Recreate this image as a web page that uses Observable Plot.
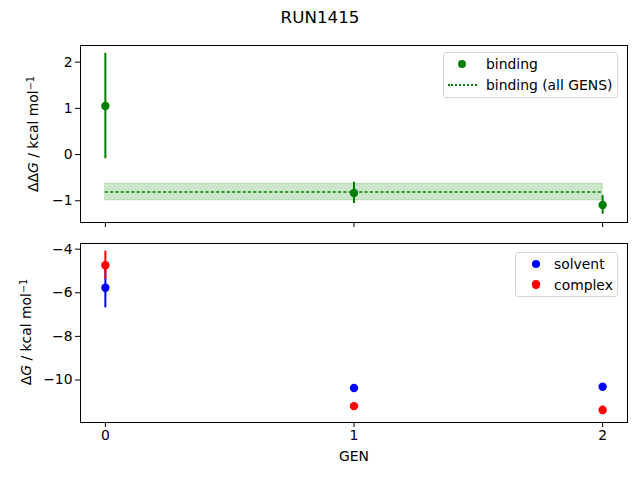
<!DOCTYPE html>
<html>
<head>
<meta charset="utf-8">
<script src="https://cdn.jsdelivr.net/npm/d3@7"></script>
<script src="https://cdn.jsdelivr.net/npm/@observablehq/plot@0.6"></script>
<style>
  html, body { margin: 0; padding: 0; background: #fff; }
  #root { position: relative; width: 640px; height: 480px; overflow: hidden; font-family: "DejaVu Sans", sans-serif; color: #000; }
  #root svg { position: absolute; left: 0; }
  .title { position: absolute; left: 0; width: 640px; top: 7px; text-align: center; font-size: 16.7px; }
  .ylab { position: absolute; font-size: 13.9px; white-space: nowrap; transform: translate(-50%, -50%) rotate(-90deg); }
  .ylab sup { font-size: 9.7px; vertical-align: 0.45em; line-height: 0; }
  .legend { position: absolute; background: rgba(255,255,255,0.8); border: 1px solid #d6d6d6; border-radius: 3px; font-size: 13.9px; box-sizing: border-box; }
  .legend .row { position: absolute; left: 0; height: 20px; line-height: 20px; white-space: nowrap; }
  .legend .dot { position: absolute; width: 8.4px; height: 8.4px; border-radius: 50%; top: 5.8px; }
  .legend .dline { position: absolute; top: 9px; width: 29px; border-top: 2px dotted green; }
  .legend .lbl { position: absolute; top: 0; }
</style>
</head>
<body>
<div id="root"></div>
<script>
// ---- data ----
const gens = [0, 1, 2];
const bindingMean = [1.05, -0.83, -1.09];
const bindingErr = [1.14, 0.23, 0.20];
const allGensMean = -0.81;
const allGensErr = 0.18;
const solventMean = [-5.77, -10.37, -10.31];
const solventErr = [0.92, 0.05, 0.05];
const complexMean = [-4.74, -11.20, -11.38];
const complexErr = [0.65, 0.12, 0.19];
const xTicks = [0, 1, 2];
const topYTicks = [-1, 0, 1, 2];
const bottomYTicks = [-10, -8, -6, -4];
const titleText = "RUN1415";
const xLabel = "GEN";

const binding = gens.map((g, i) => ({gen: g, v: bindingMean[i], e: bindingErr[i]}));
const solvent = gens.map((g, i) => ({gen: g, v: solventMean[i], e: solventErr[i]}));
const complex = gens.map((g, i) => ({gen: g, v: complexMean[i], e: complexErr[i]}));

const fmt = d => d < 0 ? "\u2212" + Math.abs(d) : String(d);
const xDomain = [-0.1, 2.1];
const plotStyle = {fontFamily: "DejaVu Sans, sans-serif", fontSize: "13.9px", background: "transparent", color: "black"};

const root = document.getElementById("root");

// ---- top panel ----
const topPlot = Plot.plot({
  width: 640, height: 235,
  marginLeft: 80, marginRight: 13, marginTop: 45, marginBottom: 13,
  style: plotStyle,
  x: {domain: xDomain},
  y: {domain: [-1.47, 2.36]},
  marks: [
    Plot.areaY(gens, {x: d => d, y1: () => allGensMean - allGensErr, y2: () => allGensMean + allGensErr, fill: "green", fillOpacity: 0.2, stroke: "green", strokeOpacity: 0.2, strokeWidth: 1}),
    Plot.lineY(gens, {x: d => d, y: () => allGensMean, stroke: "green", strokeWidth: 1.5, strokeDasharray: "2,3.3"}),
    Plot.ruleX(binding, {x: "gen", y1: d => d.v - d.e, y2: d => d.v + d.e, stroke: "green", strokeWidth: 2}),
    Plot.dot(binding, {x: "gen", y: "v", r: 4.2, fill: "green", stroke: null}),
    Plot.frame({stroke: "black", strokeWidth: 1}),
    Plot.axisY({ticks: topYTicks, tickFormat: fmt, tickSize: 5, tickPadding: 3, label: null}),
    Plot.axisX({ticks: xTicks, tickFormat: () => "", tickSize: 5, label: null})
  ]
});
topPlot.style.top = "0px";
root.appendChild(topPlot);

// ---- bottom panel ----
const bottomPlot = Plot.plot({
  width: 640, height: 245,
  marginLeft: 80, marginRight: 13, marginTop: 8, marginBottom: 58,
  style: plotStyle,
  x: {domain: xDomain},
  y: {domain: [-11.95, -3.74]},
  marks: [
    Plot.ruleX(solvent, {x: "gen", y1: d => d.v - d.e, y2: d => d.v + d.e, stroke: "blue", strokeWidth: 2}),
    Plot.dot(solvent, {x: "gen", y: "v", r: 4.2, fill: "blue", stroke: null}),
    Plot.ruleX(complex, {x: "gen", y1: d => d.v - d.e, y2: d => d.v + d.e, stroke: "red", strokeWidth: 2}),
    Plot.dot(complex, {x: "gen", y: "v", r: 4.2, fill: "red", stroke: null}),
    Plot.frame({stroke: "black", strokeWidth: 1}),
    Plot.axisY({ticks: bottomYTicks, tickFormat: fmt, tickSize: 5, tickPadding: 3, label: null}),
    Plot.axisX({ticks: xTicks, tickFormat: fmt, tickSize: 5, tickPadding: 3, label: null}),
    Plot.axisX({ticks: [], label: xLabel, labelAnchor: "center", labelOffset: 38, labelArrow: "none"})
  ]
});
bottomPlot.style.top = "235px";
root.appendChild(bottomPlot);

// ---- title & y labels ----
const t = document.createElement("div");
t.className = "title"; t.textContent = titleText;
root.appendChild(t);

function ylab(x, y, html) {
  const d = document.createElement("div");
  d.className = "ylab";
  d.style.left = x + "px"; d.style.top = y + "px";
  d.innerHTML = html;
  root.appendChild(d);
}
ylab(33, 134, "\u0394\u0394<i>G</i> / kcal mol<sup>\u22121</sup>");
ylab(26, 332, "\u0394<i>G</i> / kcal mol<sup>\u22121</sup>");

// ---- legends ----
function legend(x, y, w, h, items) {
  const L = document.createElement("div");
  L.className = "legend";
  Object.assign(L.style, {left: x + "px", top: y + "px", width: w + "px", height: h + "px"});
  items.forEach((it, i) => {
    const row = document.createElement("div");
    row.className = "row";
    row.style.top = (1 + i * 20.5) + "px";
    row.style.width = w + "px";
    if (it.type === "dot") {
      const s = document.createElement("div");
      s.className = "dot";
      s.style.background = it.color;
      s.style.left = (it.sx - 4.2) + "px";
      row.appendChild(s);
    } else {
      const s = document.createElement("div");
      s.className = "dline";
      s.style.left = (it.sx - 14.5) + "px";
      s.style.borderTopColor = it.color;
      row.appendChild(s);
    }
    const lb = document.createElement("span");
    lb.className = "lbl";
    lb.style.left = it.lx + "px";
    lb.textContent = it.label;
    row.appendChild(lb);
    L.appendChild(row);
  });
  root.appendChild(L);
}
legend(443, 52, 175, 46, [
  {type: "dot", color: "green", label: "binding", sx: 18, lx: 42},
  {type: "line", color: "green", label: "binding (all GENS)", sx: 18, lx: 42}
]);
legend(515, 252, 103, 45, [
  {type: "dot", color: "blue", label: "solvent", sx: 20, lx: 38},
  {type: "dot", color: "red", label: "complex", sx: 20, lx: 38}
]);
</script>
</body>
</html>
